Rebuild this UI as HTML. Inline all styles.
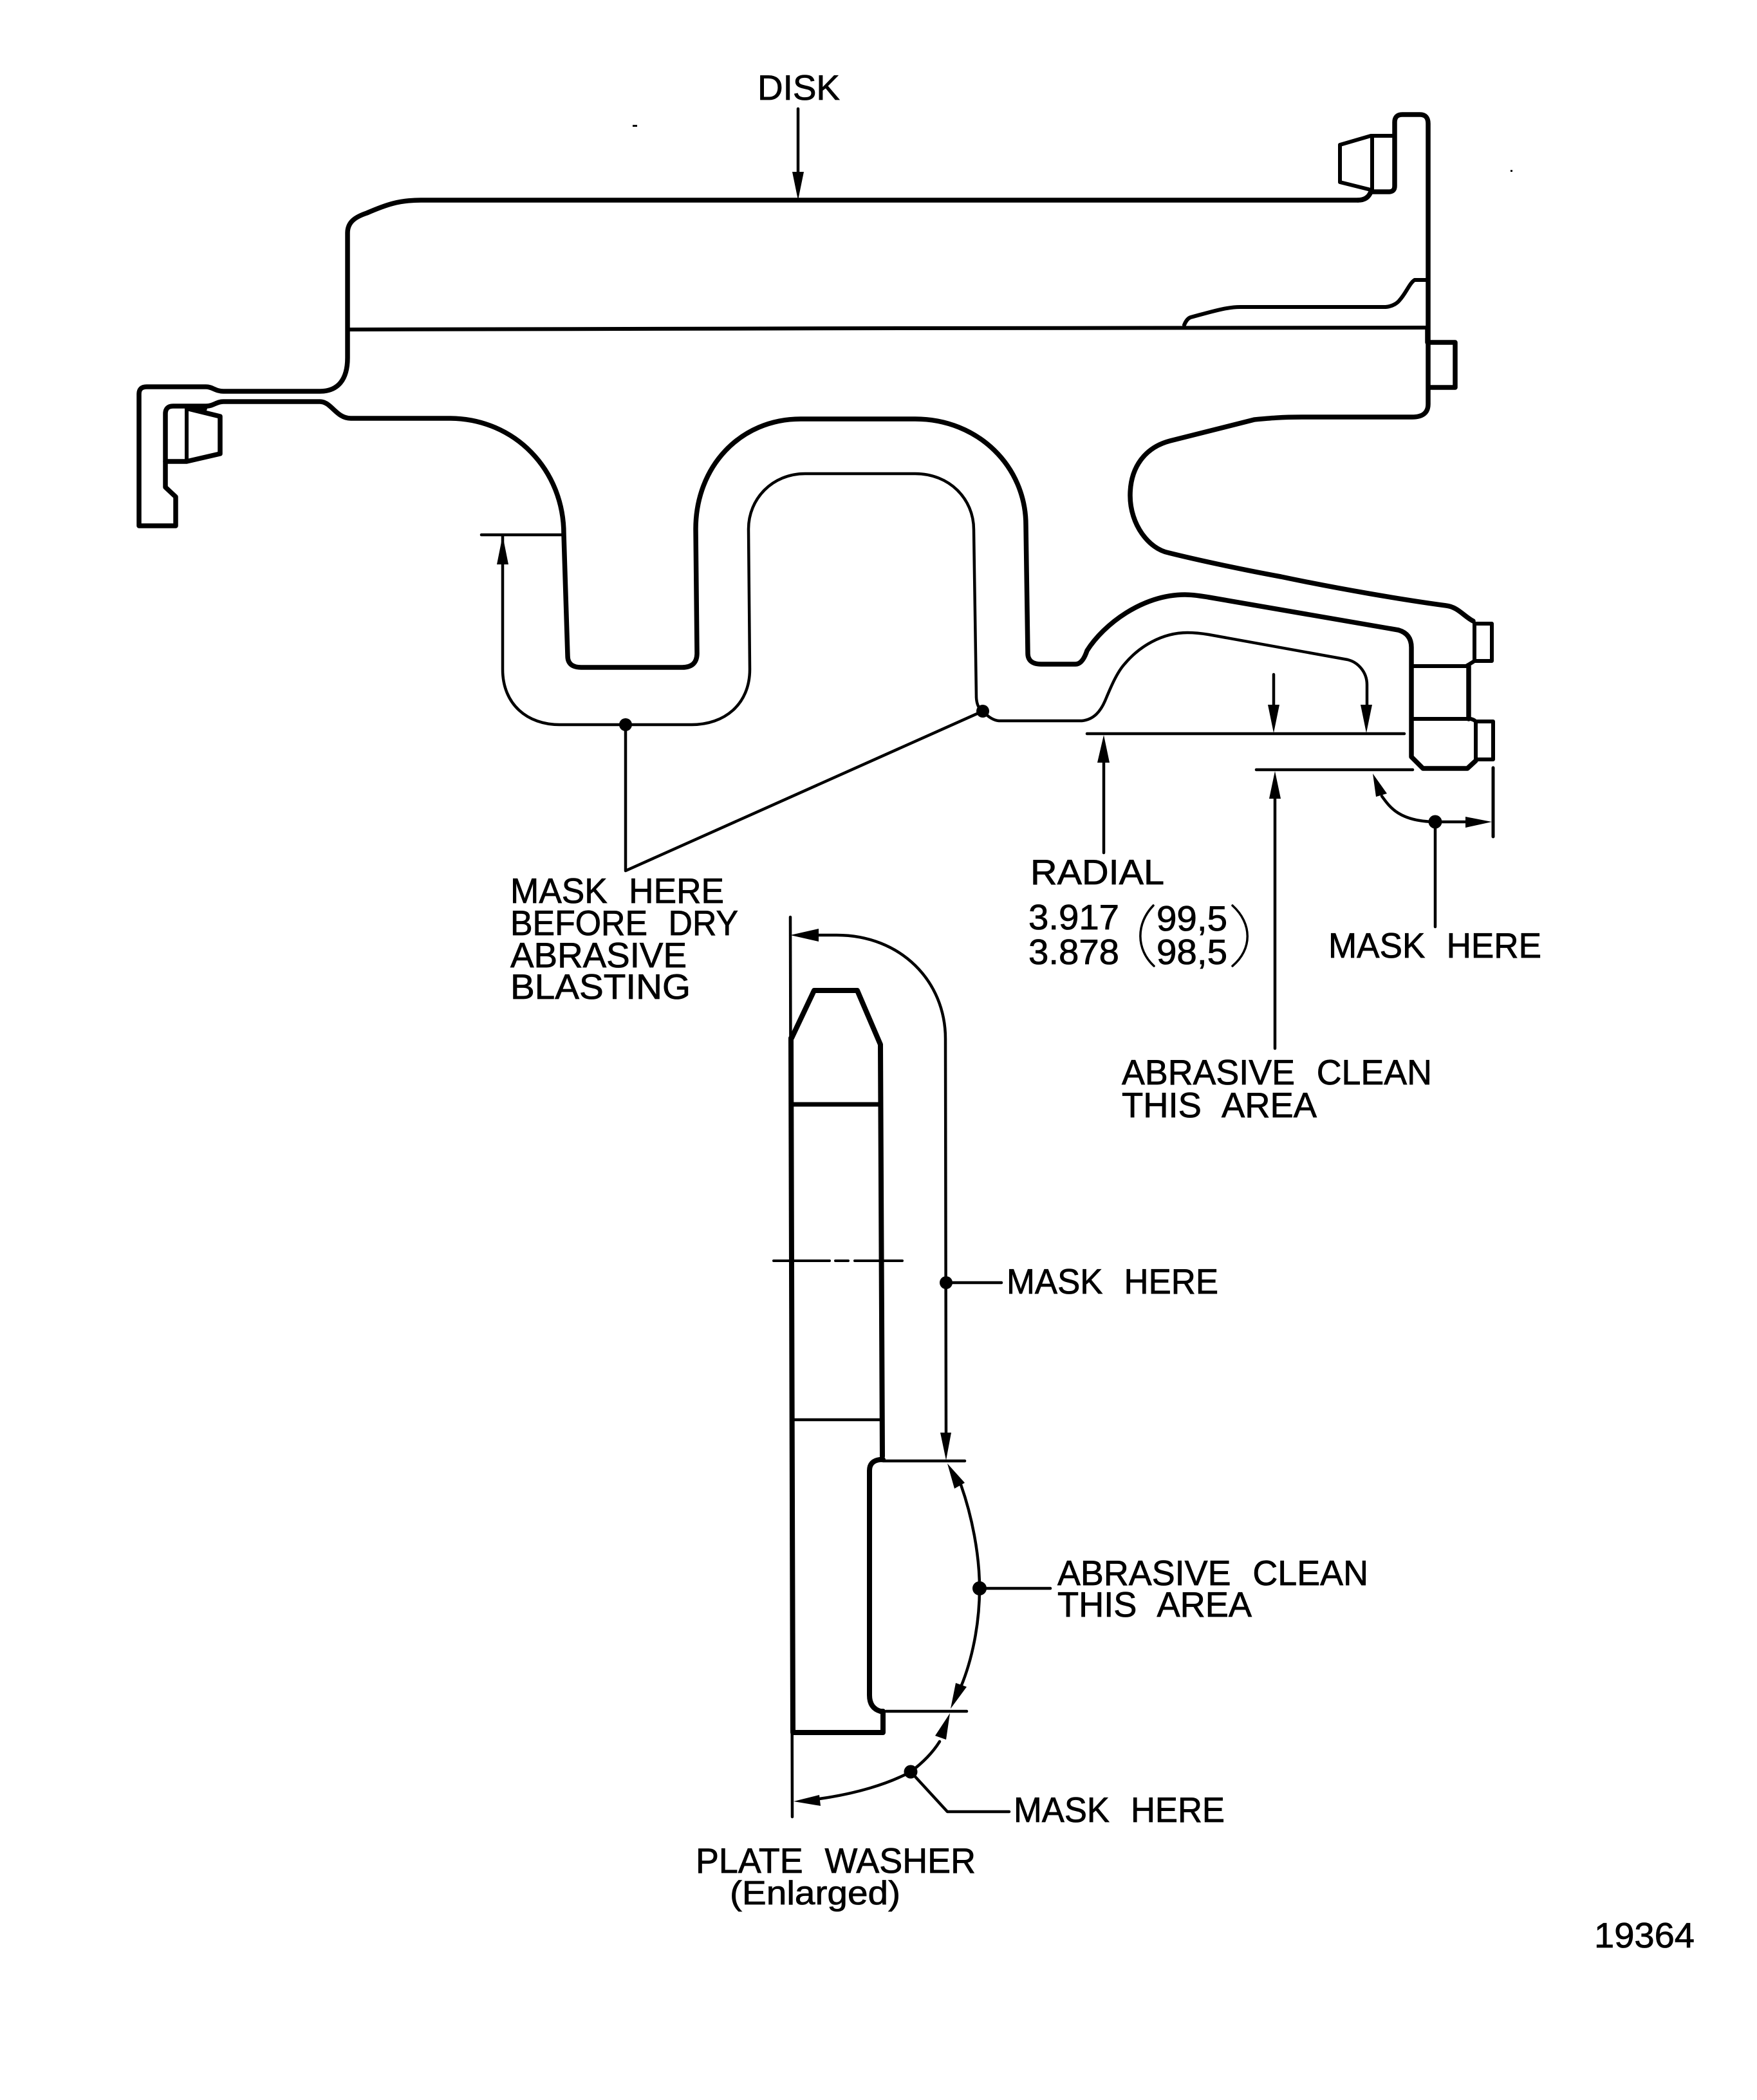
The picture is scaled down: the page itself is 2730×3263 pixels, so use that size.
<!DOCTYPE html>
<html>
<head>
<meta charset="utf-8">
<title>Disk and Plate Washer</title>
<style>
html,body{margin:0;padding:0;background:#fff}
svg{display:block}
text{font-family:"Liberation Sans",sans-serif;font-size:55px;fill:#000;stroke:#000;stroke-width:.8px;word-spacing:.35em}
.k{fill:none;stroke:#000;stroke-width:7.5;stroke-linejoin:round;stroke-linecap:round}
.m{fill:none;stroke:#000;stroke-width:6;stroke-linejoin:round;stroke-linecap:round}
.t{fill:none;stroke:#000;stroke-width:4.5;stroke-linejoin:round;stroke-linecap:round}
.a{fill:#000;stroke:none}
</style>
</head>
<body>
<svg xmlns="http://www.w3.org/2000/svg" width="2730" height="3263" viewBox="0 0 2730 3263">
<rect width="2730" height="3263" fill="#fff"/>

<!-- Disk outline -->
<path class="k" d="M2110 311 H654 C620 311 600 318 570 331 C552 337 540 345 540 362 V556 C540 590 525 608 497 608 H347 C335 608 330 601 320 601 H228 Q216 601 216 612 V817 H273 V772 L257 757 V643 Q257 631 269 631 H320 C332 631 336 624 347 624 H497 C515 624 522 650 545 650 H700 C800 651 876 730 876 830 L882 1019 Q882 1037 903 1037 H1060 Q1083 1037 1083 1015 L1081 822 C1081 725 1150 651 1244 651 H1422 C1520 651 1594 725 1594 816 L1597 1015 Q1597 1032 1618 1032 H1671 Q1682 1032 1689 1011 C1715 970 1775 924 1841 924 C1855 924 1865 926 1878 928 L2173 979 Q2193 985 2193 1006 V1176 L2211 1194 H2280 L2293 1182"/>
<path class="k" d="M2110 311 Q2125 311 2130 298 H2158 Q2167 298 2167 289 V190 Q2167 178 2179 178 H2206 Q2219 178 2219 192 V628 Q2219 648 2194 648 H2023 C1990 648 1970 650 1949 652 L1818 685 C1780 695 1756 725 1756 770 C1756 815 1785 853 1816 859 C1860 870 1930 885 1990 896 C2080 915 2180 932 2247 941 C2265 943 2275 958 2289 965"/>
<path class="k" d="M2282 1035 V1117"/>
<path class="m" d="M2291 969 H2318 V1027 H2291 V969"/>
<path class="m" d="M2193 1035 H2278 Q2285 1031 2291 1027"/>
<path class="m" d="M2193 1117 H2285 Q2290 1118 2293 1121"/>
<path class="m" d="M2293 1121 H2320 V1180 H2293 V1121"/>
<!-- right nut top -->
<path class="m" d="M2163 211 H2130 L2082 225 V283 L2130 295"/>
<path class="m" d="M2132 211 V298"/>
<!-- left nut -->
<path class="k" d="M293 635 L342 647 V705 L290 717 H257"/>
<path class="m" d="M290 631 V717"/>
<polygon class="a" points="293,628 325,628 320,640 293,638"/>
<!-- horizontal bore line -->
<path class="m" d="M543 512 L1400 510 L2217 509"/>
<path class="m" d="M1840 505 Q1844 495 1850 493 C1880 485 1905 477 1927 477 H2153 C2165 476 2172 470 2175 466 C2185 455 2190 440 2198 435 H2217"/>
<!-- right rect -->
<path class="k" d="M2222 532 H2261 V602 H2222"/>
<path class="k" d="M2218 510 V532"/>

<!-- Thin masking path -->
<path class="t" d="M781 832 V1040 C781 1095 820 1126 869 1126 H1075 C1125 1126 1165 1095 1165 1040 L1163 822 C1163 775 1200 736 1251 736 H1422 C1475 736 1513 775 1513 823 L1517 1084 Q1518 1100 1527 1105 Q1540 1119 1552 1120 H1681 C1700 1118 1710 1105 1717 1089 C1725 1070 1735 1045 1748 1031 C1770 1005 1805 983 1845 983 Q1860 983 1878 986 L2094 1025 C2110 1029 2124 1044 2124 1064 V1100"/>
<path class="t" d="M748 831 H876"/>
<circle class="a" cx="972" cy="1126" r="10"/>
<circle class="a" cx="1527" cy="1105" r="10"/>
<path class="t" d="M972 1126 V1353 L1527 1105"/>
<polygon class="a" points="781,832 772,877 790,877"/>

<!-- DISK arrow -->
<path class="t" d="M1240 169 V280"/>
<polygon class="a" points="1240,311 1231,267 1249,267"/>

<!-- Radial dims -->
<path class="t" d="M1689 1140 H2182"/>
<path class="t" d="M1952 1196 H2195"/>
<path class="t" d="M1979 1048 V1100"/>
<polygon class="a" points="1979,1139 1970,1095 1988,1095"/>
<polygon class="a" points="2123,1139 2114,1095 2132,1095"/>
<path class="t" d="M1715 1170 V1325"/>
<polygon class="a" points="1715,1142 1705,1185 1724,1185"/>
<path class="t" d="M1981 1230 V1629"/>
<polygon class="a" points="1981,1198 1972,1241 1990,1241"/>

<!-- right mask -->
<path class="t" d="M2147 1237 C2160 1255 2175 1276 2229 1277 H2285"/>
<polygon class="a" points="2133,1202 2155,1233 2138,1238"/>
<polygon class="a" points="2318,1277 2277,1269 2277,1286"/>
<path class="t" d="M2320 1193 V1300" style="stroke-width:5"/>
<circle class="a" cx="2230" cy="1277" r="10.5"/>
<path class="t" d="M2230 1277 V1440"/>

<!-- Parens -->
<path class="t" d="M1792 1407 C1765 1435 1765 1475 1793 1501" style="stroke-width:3.5"/>
<path class="t" d="M1915 1407 C1946 1435 1946 1475 1915 1501" style="stroke-width:3.5"/>

<!-- Washer -->
<path class="k" d="M1230 1613 L1265 1539 H1332 L1368 1623 L1371 2263" style="stroke-width:8"/>
<path class="k" d="M1229 1613 L1232 2692 H1372 V2659 H1368 Q1351 2654 1351 2634 V2285 Q1351 2270 1367 2268 H1372" style="stroke-width:8"/>
<path class="m" d="M1230 1716 H1368" style="stroke-width:7"/>
<path class="t" d="M1232 2206 H1370"/>
<path class="t" d="M1202 1959 H1289 M1298 1959 H1318 M1328 1959 H1402" style="stroke-width:4"/>
<path class="t" d="M1372 2270 H1499"/>
<path class="t" d="M1377 2659 H1502"/>
<path class="t" d="M1228 1425 L1231 2823"/>
<path class="t" d="M1260 1453 H1300 C1400 1453 1469 1525 1469 1614 L1470 2240"/>
<polygon class="a" points="1228,1453 1272,1443 1272,1463"/>
<polygon class="a" points="1470,2269 1461,2226 1478,2226"/>
<circle class="a" cx="1470" cy="1993" r="10"/>
<path class="t" d="M1470 1993 H1556"/>
<!-- arc -->
<path class="t" d="M1493 2307 C1510 2355 1522 2415 1522 2468 C1522 2525 1510 2580 1493 2621"/>
<polygon class="a" points="1472,2274 1483,2313 1499,2304"/>
<polygon class="a" points="1477,2655 1485,2615 1502,2621"/>
<circle class="a" cx="1522" cy="2468" r="11"/>
<path class="t" d="M1522 2468 H1632"/>
<path class="t" d="M1460 2706 C1450 2722 1435 2738 1415 2753 C1380 2772 1330 2787 1273 2795"/>
<polygon class="a" points="1476,2662 1453,2697 1470,2703"/>
<polygon class="a" points="1233,2799 1273,2789 1275,2806"/>
<circle class="a" cx="1415" cy="2753" r="10.5"/>
<path class="t" d="M1415 2753 L1472 2815 H1568"/>

<!-- specks -->
<rect class="a" x="983" y="194" width="7" height="3"/>
<rect class="a" x="2347" y="264" width="3" height="3"/>

<!-- Labels -->
<text x="1177" y="155" textLength="128" lengthAdjust="spacingAndGlyphs">DISK</text>
<text x="793" y="1403" textLength="332" lengthAdjust="spacingAndGlyphs">MASK HERE</text>
<text x="793" y="1453" textLength="354" lengthAdjust="spacingAndGlyphs">BEFORE DRY</text>
<text x="793" y="1503" textLength="274" lengthAdjust="spacingAndGlyphs">ABRASIVE</text>
<text x="793" y="1552" textLength="280" lengthAdjust="spacingAndGlyphs">BLASTING</text>
<text x="1601" y="1374" textLength="208" lengthAdjust="spacingAndGlyphs">RADIAL</text>
<text x="1598" y="1444" textLength="141" lengthAdjust="spacingAndGlyphs">3.917</text>
<text x="1598" y="1498" textLength="141" lengthAdjust="spacingAndGlyphs">3.878</text>
<text x="1797" y="1446" textLength="110" lengthAdjust="spacingAndGlyphs">99,5</text>
<text x="1797" y="1498" textLength="110" lengthAdjust="spacingAndGlyphs">98,5</text>
<text x="2064" y="1488" textLength="331" lengthAdjust="spacingAndGlyphs">MASK HERE</text>
<text x="1743" y="1685" textLength="482" lengthAdjust="spacingAndGlyphs">ABRASIVE CLEAN</text>
<text x="1743" y="1736" textLength="303" lengthAdjust="spacingAndGlyphs">THIS AREA</text>
<text x="1564" y="2010" textLength="329" lengthAdjust="spacingAndGlyphs">MASK HERE</text>
<text x="1643" y="2463" textLength="483" lengthAdjust="spacingAndGlyphs">ABRASIVE CLEAN</text>
<text x="1643" y="2512" textLength="302" lengthAdjust="spacingAndGlyphs">THIS AREA</text>
<text x="1575" y="2831" textLength="328" lengthAdjust="spacingAndGlyphs">MASK HERE</text>
<text x="1081" y="2910" textLength="435" lengthAdjust="spacingAndGlyphs">PLATE WASHER</text>
<text x="1134" y="2959" textLength="265" lengthAdjust="spacingAndGlyphs" style="font-size:52px">(Enlarged)</text>
<text x="2477" y="3026" textLength="156" lengthAdjust="spacingAndGlyphs">19364</text>
</svg>
</body>
</html>
